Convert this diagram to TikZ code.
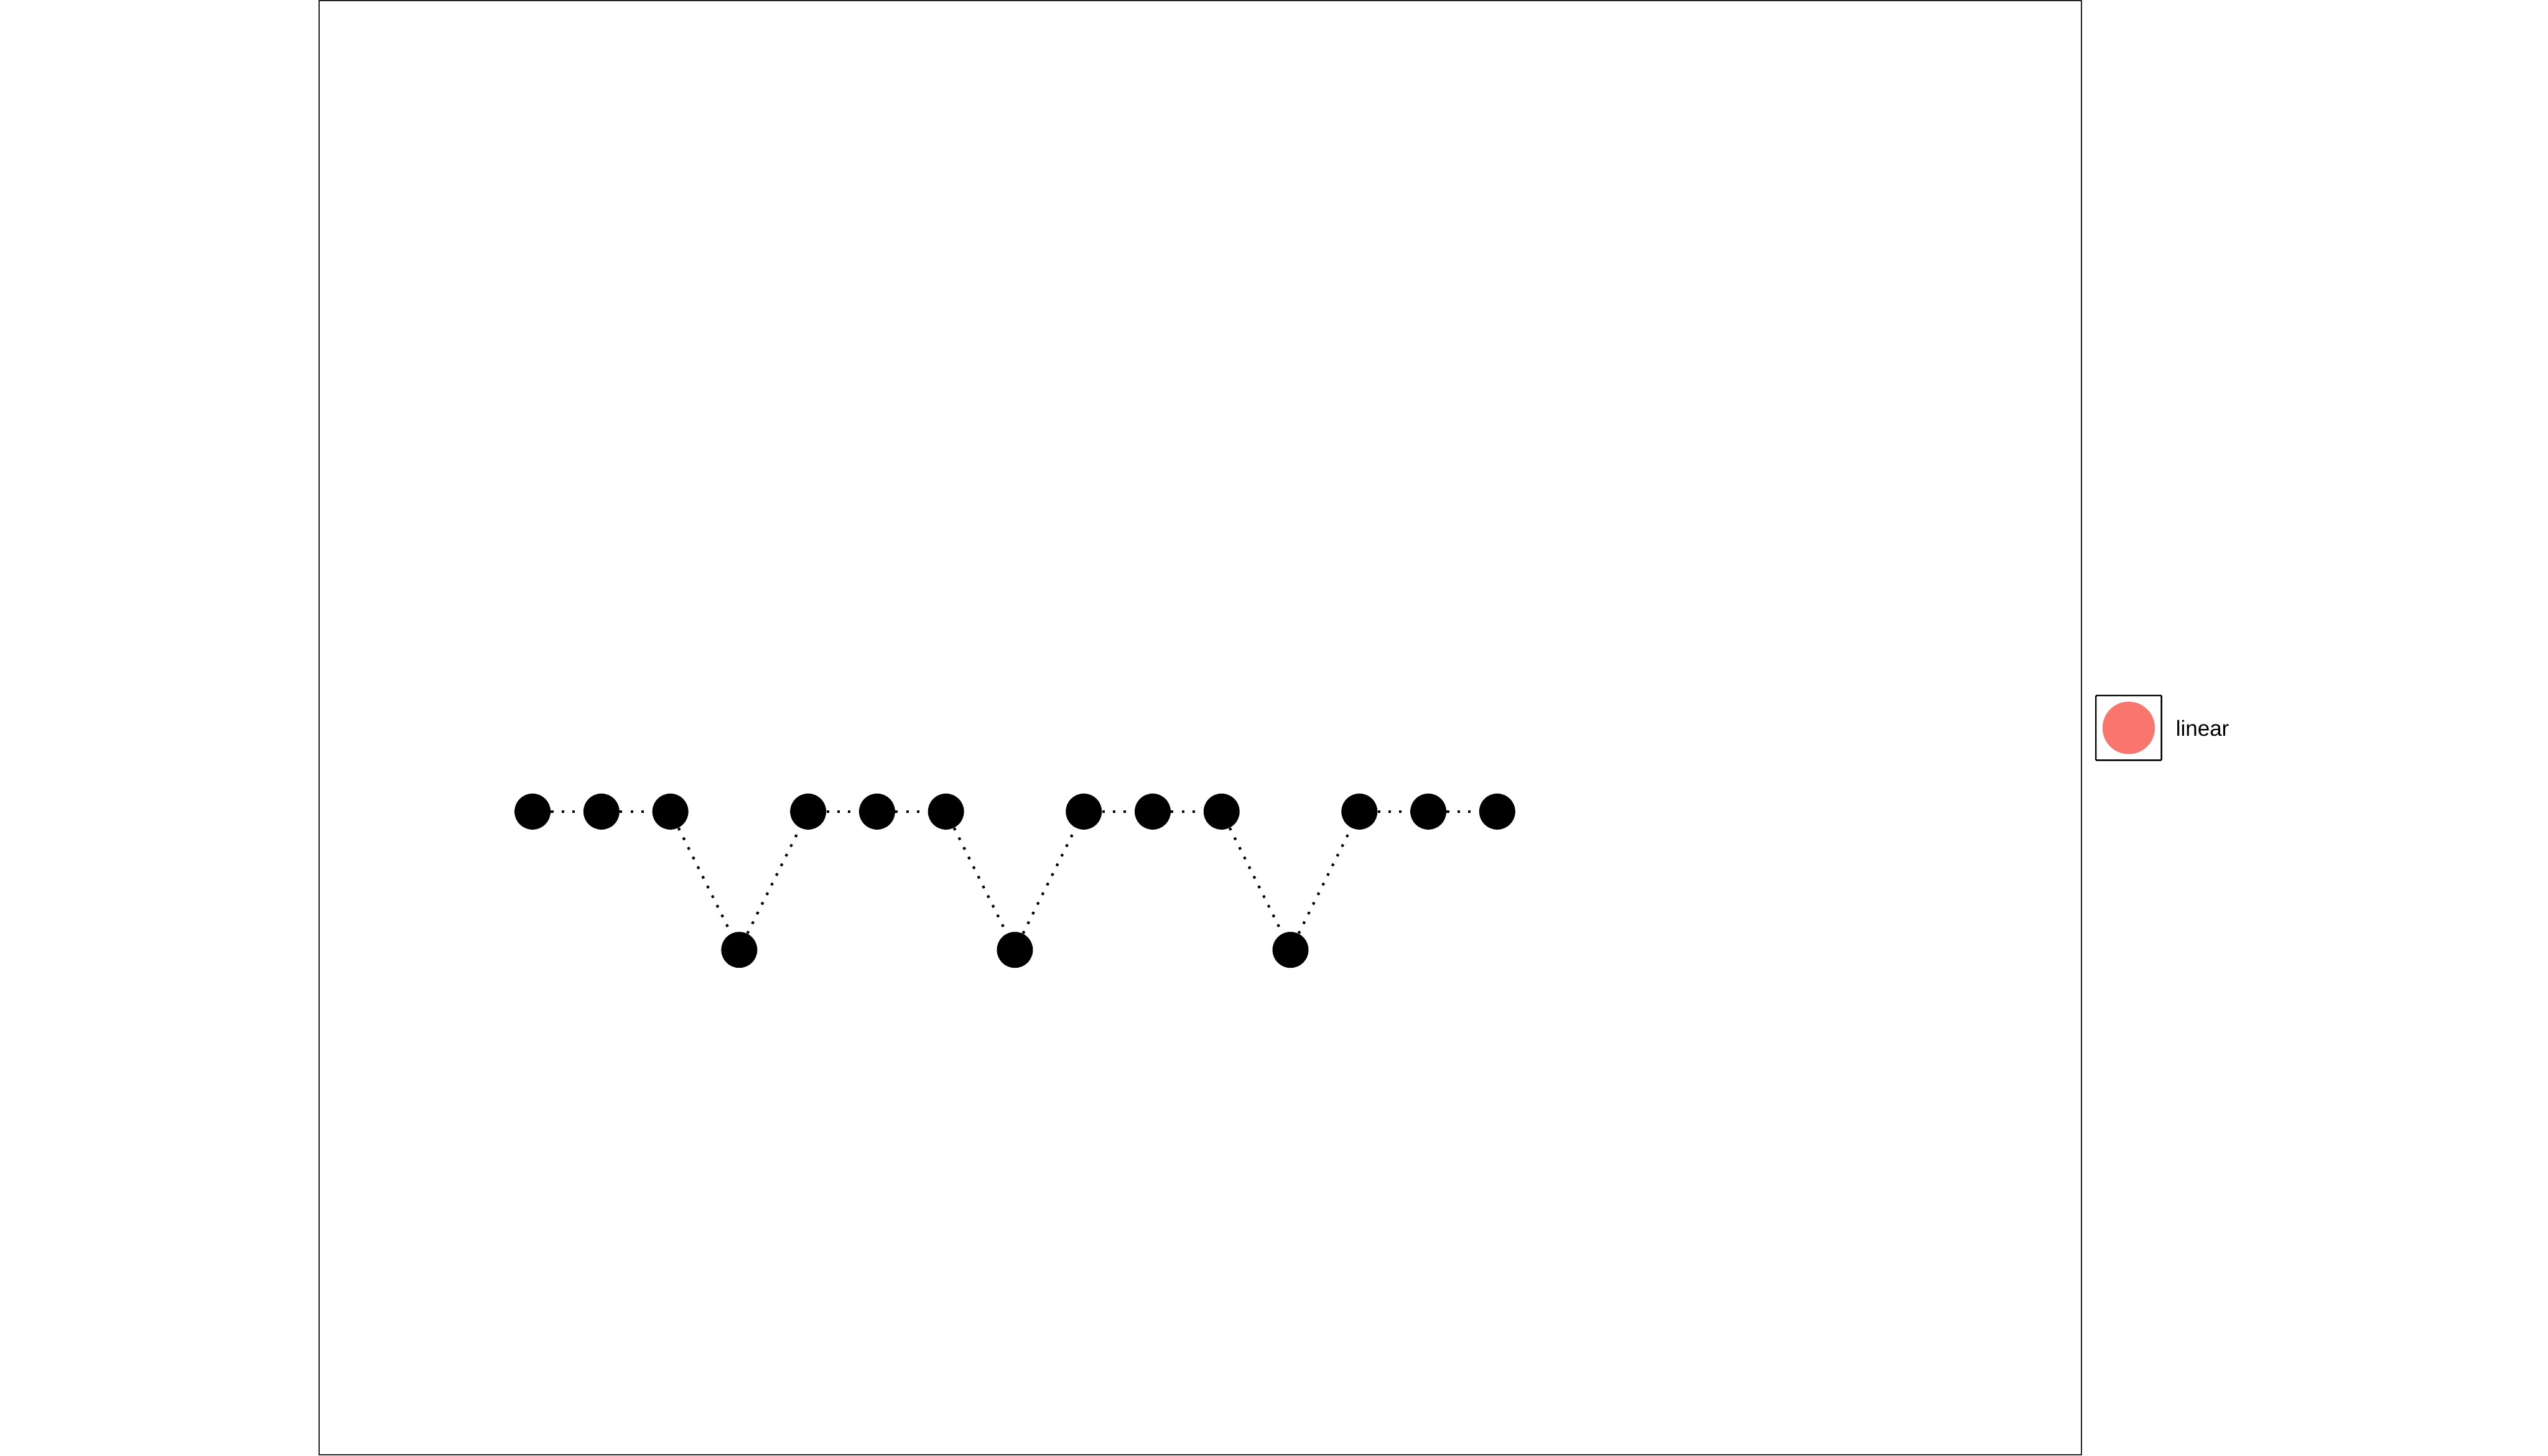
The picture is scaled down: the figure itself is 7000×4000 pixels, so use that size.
\documentclass[tikz,border=0pt]{standalone}
\usepackage{fontspec}
\setmainfont{Liberation Sans}
\definecolor{legred}{HTML}{F8766D}
\definecolor{framegray}{HTML}{222222}
\begin{document}
\begin{tikzpicture}[x=0.01cm,y=-0.01cm,
  dotnode/.style={circle,fill=black,draw=none,minimum size=0.99cm,inner sep=0pt},
  link/.style={line width=0.07cm,dash pattern=on 0.07cm off 0.226cm,line cap=butt},
  legtext/.style={anchor=base west,inner sep=0pt,font=\fontsize{17}{20}\selectfont}]
\useasboundingbox (0,0) rectangle (7000,4000);
\draw[framegray,line width=0.03cm] (877,2) rectangle (5718,3997);
% nodes
\foreach \i in {0,...,14}{
  \pgfmathsetmacro{\xx}{1463+189.3*\i}
  \ifnum\i=3 \def\yy{2610}\else\ifnum\i=7 \def\yy{2610}\else\ifnum\i=11 \def\yy{2610}\else\def\yy{2230}\fi\fi\fi
  \node[dotnode] (n\i) at (\xx,\yy) {};
}
\foreach \i [evaluate=\i as \j using int(\i+1)] in {0,...,13}{
  \draw[link] (n\i) -- (n\j);
}
% legend
\draw[line width=0.04cm,rounded corners=0.02cm] (5758,1911) rectangle (5938,2089);
\node[circle,fill=legred,draw=none,minimum size=1.44cm,inner sep=0pt] (legdot) at (5848,2000) {};
\node[legtext] (legtxt) at (5977,2022) {linear};
\end{tikzpicture}
\end{document}
